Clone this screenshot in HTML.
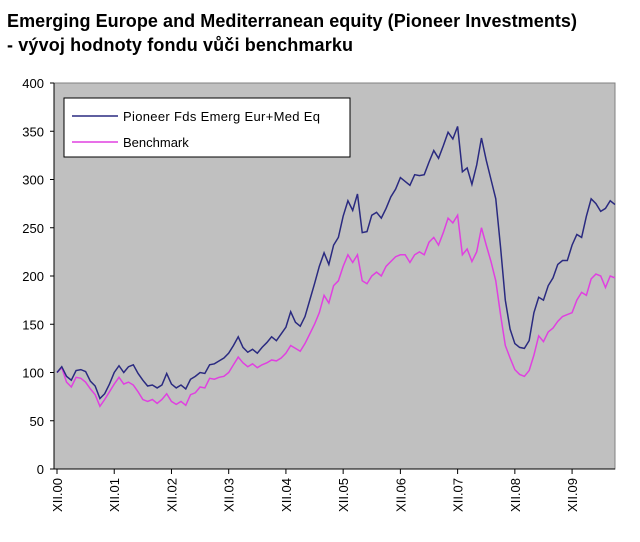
<!DOCTYPE html>
<html><head><meta charset="utf-8"><style>
body{margin:0;background:#fff;width:640px;height:537px;overflow:hidden;font-family:"Liberation Sans",sans-serif}
</style></head><body>
<svg width="640" height="537" font-family="Liberation Sans, sans-serif">
<text x="7" y="27" font-size="18" font-weight="bold" textLength="570">Emerging Europe and Mediterranean equity (Pioneer Investments)</text>
<text x="7" y="51" font-size="18" font-weight="bold" textLength="346">- vývoj hodnoty fondu vůči benchmarku</text>
<rect x="54" y="83" width="561" height="386" fill="#c0c0c0" stroke="#808080"/>
<g id="yaxis"></g>
<g id="xaxis"></g>
<g id="series"></g>
<g>
<rect x="64" y="98" width="286" height="59" fill="#fff" stroke="#000"/>
<line x1="72" y1="116" x2="118" y2="116" stroke="#2a2a80" stroke-width="1.5"/>
<text x="123" y="121" font-size="13" textLength="197">Pioneer Fds Emerg Eur+Med Eq</text>
<line x1="72" y1="142" x2="118" y2="142" stroke="#e040e0" stroke-width="1.5"/>
<text x="123" y="147" font-size="13">Benchmark</text>
</g>
</svg>
<script>
const yTicks=[0,50,100,150,200,250,300,350,400];
const xLabels=["XII.00","XII.01","XII.02","XII.03","XII.04","XII.05","XII.06","XII.07","XII.08","XII.09"];
const fund=[100,106,96,92,102,103,101,91,86,73,78,88,
100,107,100,106,108,99,92,86,87,84,87,99,
88,84,87,83,93,96,100,99,108,109,112,115,
120,128,137,126,121,124,120,126,131,137,133,140,
147,163,152,148,158,175,192,210,224,212,232,240,
262,278,268,285,245,246,263,266,260,270,282,290,
302,298,294,305,304,305,318,330,322,335,349,342,
355,308,312,295,315,343,320,300,280,230,175,145,
130,126,125,133,162,178,175,190,198,212,216,216,
232,243,240,262,280,275,267,270,278,274];
const bench=[100,105,90,85,95,94,90,83,77,65,72,80,
88,95,88,90,87,80,72,70,72,68,72,78,
70,67,70,66,77,79,85,84,94,93,95,96,
100,108,116,110,106,109,105,108,110,113,112,115,
120,128,125,122,130,140,150,162,180,172,190,195,
210,222,214,222,195,192,200,204,200,210,215,220,
222,222,214,222,225,222,235,240,232,245,260,255,
263,222,228,215,225,250,232,215,195,160,128,115,
103,98,96,102,118,138,132,142,146,153,158,160,
162,175,183,180,197,202,200,188,200,198];
const NS="http://www.w3.org/2000/svg";
const y=v=>469-v*386/400;
const x=i=>57+i*(558/117);
const ya=document.getElementById('yaxis'),xa=document.getElementById('xaxis'),sg=document.getElementById('series');
function mk(t,a,p){const e=document.createElementNS(NS,t);for(const k in a)e.setAttribute(k,a[k]);p.appendChild(e);return e;}
mk('line',{x1:54,y1:83,x2:54,y2:469,stroke:'#000'},ya);
yTicks.forEach(v=>{
 mk('line',{x1:50,y1:y(v),x2:54,y2:y(v),stroke:'#000'},ya);
 const t=mk('text',{x:44,y:y(v)+5,'font-size':13,'text-anchor':'end'},ya);t.textContent=v;
 
 
});
mk('line',{x1:54,y1:469,x2:615,y2:469,stroke:'#000'},xa);
xLabels.forEach((l,k)=>{
 const xx=x(k*12);
 mk('line',{x1:xx,y1:469,x2:xx,y2:474,stroke:'#000'},xa);
 const t=mk('text',{x:0,y:0,'font-size':13,'text-anchor':'end',transform:`translate(${xx+5},478) rotate(-90)`},xa);t.textContent=l;
 
 
});
function line(d,c,n){
 const p=mk('polyline',{points:d.map((v,i)=>x(i)+','+y(v)).join(' '),fill:'none',stroke:c,'stroke-width':1.5},sg);
 
 
}
line(bench,'#e040e0','benchmark-line');
line(fund,'#2a2a80','fund-line');
</script>
</body></html>
